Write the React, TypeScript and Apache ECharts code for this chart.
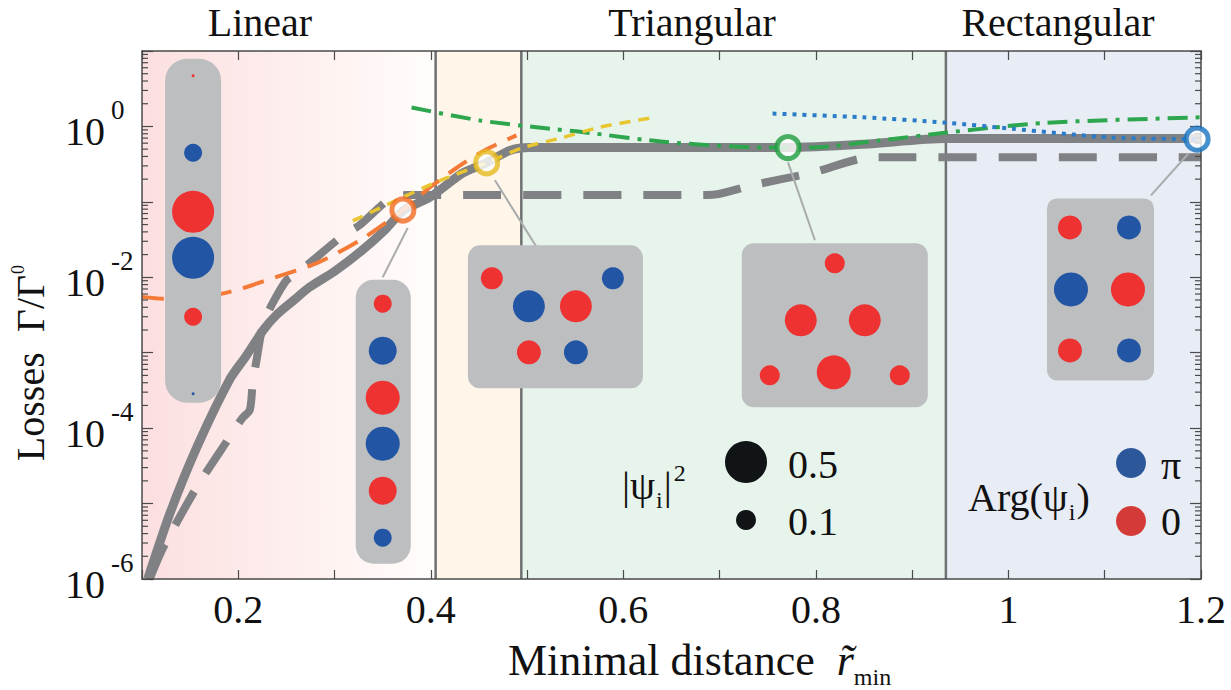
import React, { useEffect, useRef } from "react";
import * as echarts from "echarts";

const SERIF = '"Liberation Serif", "Times New Roman", Times, serif';
const AX = "#4a4a4a";
const GRAY = "#808184";
const RED = "#ee3131";
const BLUE = "#2255a4";

// axis ranges
const X_MIN = 0.1;
const X_MAX = 1.2;
const X_STEP = 0.1;
const Y_MIN = 1e-6;
const Y_MAX = 10;
const yDecades = [-6, -5, -4, -3, -2, -1, 0];
const yMinorMultipliers = [2, 3, 4, 5, 6, 7, 8, 9];

// regimes
const regionEdges = [0.1, 0.405, 0.494, 0.935, 1.2];
const regionFills = ["gradient", "#fff5e9", "#e7f4eb", "#e8ecf5"];
const dividers = [0.405, 0.494, 0.935];
const regionNames = ["Linear", "Triangular", "Rectangular"];

// curves [x, losses]
const solidLoss = [
  [0.106, 1.0e-6], [0.129, 7.4e-6], [0.157, 5.6e-5], [0.191, 4.4e-4], [0.208, 9.0e-4],
  [0.226, 2.0e-3], [0.24, 3.2e-3], [0.258, 5.0e-3], [0.274, 7.4e-3], [0.3, 1.2e-2],
  [0.329, 2.3e-2], [0.352, 4.2e-2], [0.371, 7.6e-2], [0.399, 0.115], [0.433, 0.24],
  [0.458, 0.33], [0.482, 0.48], [0.503, 0.525], [0.55, 0.525], [0.771, 0.525],
  [0.85, 0.58], [0.935, 0.69], [1.2, 0.69],
];
const dashedLoss = [
  [0.108, 1.0e-6], [0.122, 2.6e-6], [0.157, 1.66e-5], [0.191, 7.6e-5], [0.204, 1.35e-4],
  [0.212, 1.75e-4], [0.215, 4.0e-4], [0.219, 8.0e-4], [0.226, 2.45e-3], [0.236, 4.6e-3],
  [0.25, 9.1e-3], [0.261, 1.12e-2], [0.278, 1.7e-2], [0.309, 3.6e-2], [0.326, 4.9e-2],
  [0.358, 0.112], [0.375, 0.123], [0.672, 0.123], [0.695, 0.125], [0.734, 0.166],
  [0.797, 0.245], [0.858, 0.39], [0.88, 0.39], [1.2, 0.39],
];
const orangeLoss = [
  [0.1, 5.5e-3], [0.122, 5.2e-3], [0.181, 6.0e-3], [0.205, 7.2e-3], [0.233, 9.5e-3],
  [0.282, 1.55e-2], [0.33, 3.3e-2], [0.371, 7.8e-2], [0.399, 0.155], [0.433, 0.32],
  [0.461, 0.52], [0.489, 0.76],
];
const yellowLoss = [
  [0.319, 5.6e-2], [0.371, 0.115], [0.409, 0.19], [0.458, 0.33], [0.496, 0.525],
  [0.537, 0.71], [0.576, 0.98], [0.628, 1.29],
];
const greenLoss = [
  [0.38, 1.78], [0.451, 1.2], [0.524, 0.93], [0.555, 0.85], [0.645, 0.62],
  [0.749, 0.525], [0.794, 0.525], [0.866, 0.65], [0.936, 0.83], [1.04, 1.12], [1.2, 1.32],
];
const blueLoss = [
  [0.755, 1.48], [0.849, 1.32], [0.936, 1.12], [1.004, 0.93], [1.108, 0.71], [1.196, 0.68],
];

// highlighted states
const markerPoints = [[0.371, 0.078], [0.458, 0.33], [0.771, 0.525], [1.196, 0.68]];
const markerColors = ["#f26a21", "#e6b91e", "#1e9e3e", "#1874c0"];

// connectors [from, to]
const connectors = [
  [[0.376, 0.045], [0.35, 0.01]],
  [[0.4666, 0.193], [0.51, 0.025]],
  [[0.771, 0.333], [0.799, 0.031]],
  [[1.187, 0.438], [1.148, 0.122]],
];

// insets: anchor (top-left in data coords), size [w, h, radius], dots [dx, dy, r, phase]
const insetAnchors = [[0.124, 7.9], [0.322, 0.0093], [0.4385, 0.0265], [0.723, 0.0282], [1.04, 0.111]];
const insetSizes = [[56, 344, 22], [55, 284, 18], [175, 143, 12], [186, 164, 12], [107, 182, 10]];
const insetDots = [
  [[28, 17, 1.5, 0], [28, 94, 9, 1], [28, 153, 21, 0], [28, 199, 21, 1], [28, 258, 9, 0], [28, 335, 1.5, 1]],
  [[27, 24, 9, 0], [27, 71, 14, 1], [27, 118, 17, 0], [27, 164, 17, 1], [27, 211, 14, 0], [27, 258, 9, 1]],
  [[24, 33, 11, 0], [145, 33, 11, 1], [61, 61, 16, 1], [108, 61, 16, 0], [61, 107, 12, 0], [108, 107, 12, 1]],
  [[93, 20, 10, 0], [59, 77, 16, 0], [123, 77, 16, 0], [92, 129, 17, 0], [28, 132, 10, 0], [158, 132, 10, 0]],
  [[23, 29, 12, 0], [82, 29, 12, 1], [24, 91, 17, 1], [81, 91, 17, 0], [23, 152, 12, 0], [82, 152, 12, 1]],
];

const txt = (x: number, y: number, text: string, fontSize: number, extra: any = {}) => ({
  type: "text",
  x,
  y,
  z: 100,
  style: {
    text,
    fontFamily: SERIF,
    fontSize,
    fill: "#111",
    align: "left",
    verticalAlign: "middle",
    ...extra,
  },
});

const richTxt = (x: number, y: number, text: string, rich: any, extra: any = {}) => ({
  type: "text",
  x,
  y,
  z: 100,
  style: { text, align: "left", verticalAlign: "middle", fill: "#111", rich, ...extra },
});

export default function App() {
  const ref = useRef<HTMLDivElement>(null);
  useEffect(() => {
    if (!ref.current) return;
    const chart = echarts.init(ref.current, undefined, { renderer: "svg" });

    const minorTicks: number[][] = [];
    yDecades.forEach((k) => yMinorMultipliers.forEach((m) => minorTicks.push([X_MIN, m * Math.pow(10, k)])));

    const bandData = regionFills.map((_, i) => [regionEdges[i], regionEdges[i + 1]]);

    const lineSeries = (data: number[][], color: string, width: number, type: any, z: number) => ({
      type: "line",
      data,
      showSymbol: false,
      symbol: "none",
      smooth: 0.25,
      lineStyle: { color, width, type, cap: "butt" },
      z,
      silent: true,
    });

    const axisCommonX = {
      type: "value",
      min: X_MIN,
      max: X_MAX,
      interval: X_STEP,
      axisLine: { show: true, lineStyle: { color: AX, width: 1.5 } },
      axisTick: { show: true, inside: true, length: 9, lineStyle: { color: AX, width: 1.2 } },
      splitLine: { show: false },
      z: 10,
    };
    const axisCommonY = {
      type: "log",
      logBase: 10,
      min: Y_MIN,
      max: Y_MAX,
      splitNumber: 7,
      axisLine: { show: true, lineStyle: { color: AX, width: 1.5 } },
      axisTick: { show: true, inside: true, length: 11, lineStyle: { color: AX, width: 1.2 } },
      splitLine: { show: false },
      z: 10,
    };

    const a40 = { fontFamily: SERIF, fontSize: 40, fill: "#111" };
    const sub24 = { fontFamily: SERIF, fontSize: 24, fill: "#111", padding: [30, 1, 0, 1] };
    const sup24 = { fontFamily: SERIF, fontSize: 24, fill: "#111", padding: [0, 0, 24, 2] };

    const option: any = {
      animation: false,
      grid: { left: 142, top: 51, width: 1059, height: 528, containLabel: false, outerBoundsMode: "none" },
      xAxis: [
        {
          ...axisCommonX,
          position: "bottom",
          axisLabel: {
            show: true,
            showMinLabel: true,
            showMaxLabel: true,
            margin: 10,
            fontFamily: SERIF,
            fontSize: 40,
            color: "#111",
            formatter: (v: number) => {
              const k = Math.round(v * 10);
              if (k % 2 !== 0) return "";
              return k === 10 ? "1" : (k / 10).toString();
            },
          },
        },
        { ...axisCommonX, position: "top", axisLabel: { show: false } },
      ],
      yAxis: [
        {
          ...axisCommonY,
          position: "left",
          axisLabel: {
            show: true,
            showMinLabel: true,
            showMaxLabel: true,
            align: "left",
            margin: 77,
            formatter: (v: number) => {
              const e = Math.round(Math.log10(v));
              if (e % 2 !== 0 || e > 0) return "";
              return `{b|10}{s|${e}}`;
            },
            rich: {
              b: { fontFamily: SERIF, fontSize: 40, color: "#111", padding: [10, 0, 0, 0] },
              s: { fontFamily: SERIF, fontSize: 27, color: "#111", padding: [0, 0, 33, 6] },
            },
          },
        },
        { ...axisCommonY, position: "right", axisLabel: { show: false } },
      ],
      series: [
        {
          type: "custom",
          z: 0,
          silent: true,
          clip: false,
          data: bandData,
          renderItem: (params: any, api: any) => {
            const i = params.dataIndex;
            const a = api.coord([api.value(0), Y_MAX]);
            const b = api.coord([api.value(1), Y_MIN]);
            const fill =
              regionFills[i] === "gradient"
                ? new echarts.graphic.LinearGradient(0, 0, 1, 0, [
                    { offset: 0, color: "#fcdfe0" },
                    { offset: 1, color: "#fffdfb" },
                  ])
                : regionFills[i];
            return {
              type: "rect",
              shape: { x: a[0], y: a[1], width: b[0] - a[0], height: b[1] - a[1] },
              style: { fill },
            };
          },
        },
        {
          type: "custom",
          z: 1,
          silent: true,
          clip: false,
          data: dividers.map((d) => [d, 1]),
          renderItem: (params: any, api: any) => {
            const a = api.coord([api.value(0), Y_MAX]);
            const b = api.coord([api.value(0), Y_MIN]);
            return {
              type: "line",
              shape: { x1: a[0], y1: a[1], x2: b[0], y2: b[1] },
              style: { stroke: "#6f7072", lineWidth: 2.5 },
            };
          },
        },
        {
          type: "custom",
          z: 11,
          silent: true,
          clip: false,
          data: minorTicks,
          renderItem: (params: any, api: any) => {
            const cs = params.coordSys;
            const p = api.coord([X_MIN, api.value(1)]);
            return {
              type: "group",
              children: [
                { type: "line", shape: { x1: cs.x, y1: p[1], x2: cs.x + 6, y2: p[1] }, style: { stroke: AX, lineWidth: 1.2 } },
                {
                  type: "line",
                  shape: { x1: cs.x + cs.width - 6, y1: p[1], x2: cs.x + cs.width, y2: p[1] },
                  style: { stroke: AX, lineWidth: 1.2 },
                },
              ],
            };
          },
        },
        lineSeries(dashedLoss, GRAY, 8, [38, 22], 4),
        lineSeries(solidLoss, GRAY, 9, "solid", 5),
        lineSeries(orangeLoss, "#f47a38", 4, [22, 12], 6),
        lineSeries(greenLoss, "#2ea64e", 4, [20, 8, 4, 8], 6),
        lineSeries(blueLoss, "#2a7bc8", 4, [4, 6], 6),
        lineSeries(yellowLoss, "#e9c530", 3.5, [11, 8], 7),
        ...connectors.map((c) => ({
          type: "line",
          data: c,
          showSymbol: false,
          symbol: "none",
          lineStyle: { color: "#a9abad", width: 2 },
          z: 8,
          silent: true,
        })),
        {
          type: "custom",
          z: 9,
          silent: true,
          clip: false,
          data: insetAnchors,
          renderItem: (params: any, api: any) => {
            const i = params.dataIndex;
            const p = api.coord([api.value(0), api.value(1)]);
            const [w, h, r] = insetSizes[i];
            const children: any[] = [
              { type: "rect", shape: { x: p[0], y: p[1], width: w, height: h, r }, style: { fill: "#bcbec0" } },
            ];
            insetDots[i].forEach(([dx, dy, rad, ph]) =>
              children.push({
                type: "circle",
                shape: { cx: p[0] + dx, cy: p[1] + dy, r: rad },
                style: { fill: ph === 1 ? BLUE : RED },
              })
            );
            return { type: "group", children };
          },
        },
        {
          type: "scatter",
          z: 20,
          silent: true,
          symbol: "circle",
          symbolSize: 22,
          data: markerPoints.map((p, i) => ({
            value: p,
            itemStyle: { color: "#ffffff", borderColor: markerColors[i], borderWidth: 5 },
          })),
        },
      ],
      graphic: [
        ...regionNames.map((n, i) => txt([260, 692, 1058][i], 22, n, 40, { align: "center" })),
        {
          type: "text",
          x: 30,
          y: 363,
          z: 100,
          rotation: Math.PI / 2,
          style: {
            text: "{a|Losses  Γ/Γ}{s|0}",
            align: "center",
            verticalAlign: "middle",
            fill: "#111",
            rich: {
              a: { fontFamily: SERIF, fontSize: 40, fill: "#111" },
              s: { fontFamily: SERIF, fontSize: 18, fill: "#111", padding: [0, 0, 24, 1] },
            },
          },
        },
        richTxt(508, 660, "{a|Minimal distance  }{r|r\u0303}{m|min}", {
          a: { fontFamily: SERIF, fontSize: 44, fill: "#111" },
          r: { fontFamily: SERIF, fontSize: 44, fontStyle: "italic", fill: "#111" },
          m: { fontFamily: SERIF, fontSize: 24, fill: "#111", padding: [34, 0, 0, 0] },
        }),
        // |psi_i|^2 legend
        richTxt(622, 485, "{a||ψ}{i|i}{a||}{s|2}", { a: a40, i: sub24, s: sup24 }),
        { type: "circle", z: 100, shape: { cx: 746, cy: 462, r: 21 }, style: { fill: "#111416" } },
        { type: "circle", z: 100, shape: { cx: 746, cy: 520, r: 10 }, style: { fill: "#111416" } },
        txt(788, 464, "0.5", 40),
        txt(788, 521, "0.1", 40),
        // Arg(psi_i) legend
        richTxt(968, 497, "{a|Arg(ψ}{i|i}{a|)}", { a: a40, i: sub24 }),
        { type: "circle", z: 100, shape: { cx: 1131, cy: 463, r: 15 }, style: { fill: "#2c579b" } },
        { type: "circle", z: 100, shape: { cx: 1131, cy: 521, r: 15 }, style: { fill: "#d33a38" } },
        txt(1161, 465, "π", 40),
        txt(1161, 521, "0", 40),
      ],
    };
    chart.setOption(option);
    return () => chart.dispose();
  }, []);
  return <div ref={ref} style={{ position: "absolute", left: 0, top: 0, width: 1231, height: 690 }} />;
}
